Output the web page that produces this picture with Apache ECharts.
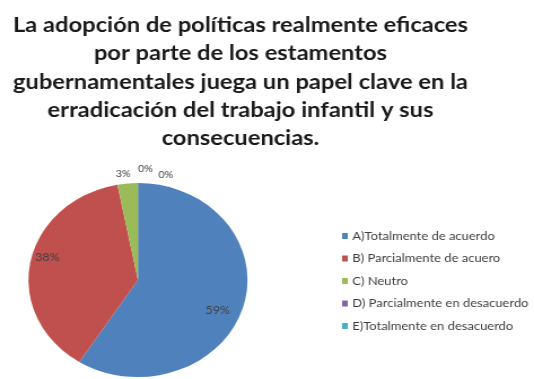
<!DOCTYPE html>
<html><head><meta charset="utf-8">
<script src="https://cdn.jsdelivr.net/npm/echarts@6/dist/echarts.min.js"></script>
<style>html,body{margin:0;padding:0;background:#fff;overflow:hidden}
#wrap{width:534px;height:379px;overflow:hidden}
#c{width:473px;height:379px;transform:scaleX(1.129);transform-origin:0 0}</style>
</head><body><div id="wrap"><div id="c"></div></div>
<script>
const titleLines = [
  'La adopción de políticas realmente eficaces',
  'por parte de los estamentos',
  'gubernamentales juega un papel clave en la',
  'erradicación del trabajo infantil y sus',
  'consecuencias.'
];
const categories = [
  'A)Totalmente de acuerdo',
  'B) Parcialmente de acuero',
  'C) Neutro',
  'D) Parcialmente en desacuerdo',
  'E)Totalmente en desacuerdo'
];
const values = [59, 38, 3, 0, 0];
const colors = ['#4F81BD', '#C0504D', '#9BBB59', '#8064A2', '#4BACC6'];

const chart = echarts.init(document.getElementById('c'));
const center = [122.2, 280];
const R = 97;
const font = 'Lato, "Open Sans", sans-serif';
const smallOffsets = [null, null, [3, -6], [0, -10], [18, -4]];
const bigOffsets = [[-9.5, 7], [1.8, -7]];

chart.setOption({
  animation: false,
  color: colors,
  title: {
    text: titleLines.join('\n'),
    left: 208, top: 6, textAlign: 'center',
    textStyle: { fontFamily: font, fontWeight: 'bold', fontSize: 21, lineHeight: 28.3, color: '#1a1a1a' }
  },
  legend: {
    orient: 'vertical', left: 298, top: 225,
    itemWidth: 5, itemHeight: 6, itemGap: 10.5,
    icon: 'rect',
    textStyle: { fontFamily: font, fontSize: 11.5, color: '#404040', padding: [0,0,0,-1] },
    data: categories
  },
  series: [
    {
      type: 'pie', center: center, radius: [0, R],
      startAngle: 90, clockwise: true,
      avoidLabelOverlap: false,
      silent: true,
      itemStyle: { borderWidth: 0 },
      label: { show: true, position: 'outside', formatter: p => p.value + '%',
        fontFamily: font, fontSize: 9.5, color: '#404040', distanceToLabelLine: 0 },
      labelLine: { show: false, length: 4, length2: 0 },
      data: categories.map((n, i) => ({
        name: n, value: values[i],
        label: i < 2 ? { show: false } : { offset: smallOffsets[i] }
      }))
    },
    {
      type: 'pie', center: center, radius: [R * 0.66, R],
      startAngle: 90, clockwise: true, silent: true,
      avoidLabelOverlap: false, legendHoverLink: false,
      itemStyle: { color: 'rgba(0,0,0,0)' },
      label: { show: true, position: 'inside', formatter: p => p.value + '%',
        fontFamily: font, fontSize: 11, color: '#404040' },
      labelLine: { show: false },
      data: categories.map((n, i) => ({
        name: n + ' ', value: values[i],
        label: i < 2 ? { show: true, offset: bigOffsets[i] } : { show: false }
      }))
    }
  ]
});
</script></body></html>
